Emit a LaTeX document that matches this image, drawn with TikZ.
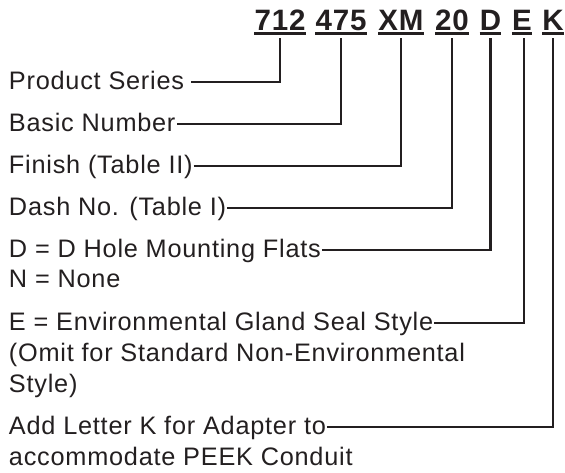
\documentclass[tikz,border=0pt]{standalone}
\usepackage{fontspec}
\setmainfont[LetterSpace=3]{Liberation Sans}
\usetikzlibrary{positioning}
\definecolor{ink}{HTML}{231F20}

\begin{document}
\begin{tikzpicture}[x=1pt, y=-1pt,
    code/.style={inner sep=0, anchor=base, text=ink, font=\fontsize{29.5}{31}\selectfont\bfseries},
    lbl/.style={inner sep=0, outer sep=1pt, anchor=base west, text=ink, font=\fontsize{25.3}{31}\selectfont},
    conn/.style={draw=ink, line width=2.1pt}
]
\useasboundingbox (0,0) rectangle (565,472);

% part number groups
\node[code] (c712) at (280,30) {712};
\node[code] (c475) at (341,30) {475};
\node[code] (cXM) at (401,30) {XM};
\node[code] (c20) at (452,30) {20};
\node[code] (cD) at (490.5,30) {D};
\node[code] (cE) at (522,30) {E};
\node[code] (cK) at (553,30) {K};
\foreach \c in {c712,c475,cXM,c20,cD,cE,cK}
  \draw[conn] ([yshift=-3.5pt]\c.base west) -- ([yshift=-3.5pt]\c.base east);

% descriptions
\node[lbl] (ps) at (8,89) {Product Series};
\node[lbl] (bn) at (8,131) {Basic Number};
\node[lbl] (fin) at (8,173) {Finish (Table II)};
\node[lbl] (dash) at (8,215) {Dash No. (Table I)};
\node[lbl] (dh) at (8,257) {D = D Hole Mounting Flats};
\node[lbl] (dh2) at (8,287) {N = None};
\node[lbl] (env) at (8,330) {E = Environmental Gland Seal Style};
\node[lbl] (env2) at (8,361) {(Omit for Standard Non-Environmental};
\node[lbl] (env3) at (8,392) {Style)};
\node[lbl] (peek) at (8,434) {Add Letter K for Adapter to};
\node[lbl] (peek2) at (8,465) {accommodate PEEK Conduit};

% leader lines
\draw[conn] ([xshift=6pt,yshift=7pt]ps.base east) -| ([yshift=-8pt]c712.base);
\draw[conn] ([xshift=1pt,yshift=7pt]bn.base east) -| ([yshift=-8pt]c475.base);
\draw[conn] ([yshift=7pt]fin.base east) -| ([yshift=-8pt]cXM.base);
\draw[conn] ([yshift=7pt]dash.base east) -| ([yshift=-8pt]c20.base);
\draw[conn] ([yshift=7pt]dh.base east) -| ([yshift=-8pt]cD.base);
\draw[conn] ([yshift=7pt]env.base east) -| ([xshift=2pt,yshift=-8pt]cE.base);
\draw[conn] ([yshift=7pt]peek.base east) -| ([yshift=-8pt]cK.base);
\end{tikzpicture}
\end{document}
